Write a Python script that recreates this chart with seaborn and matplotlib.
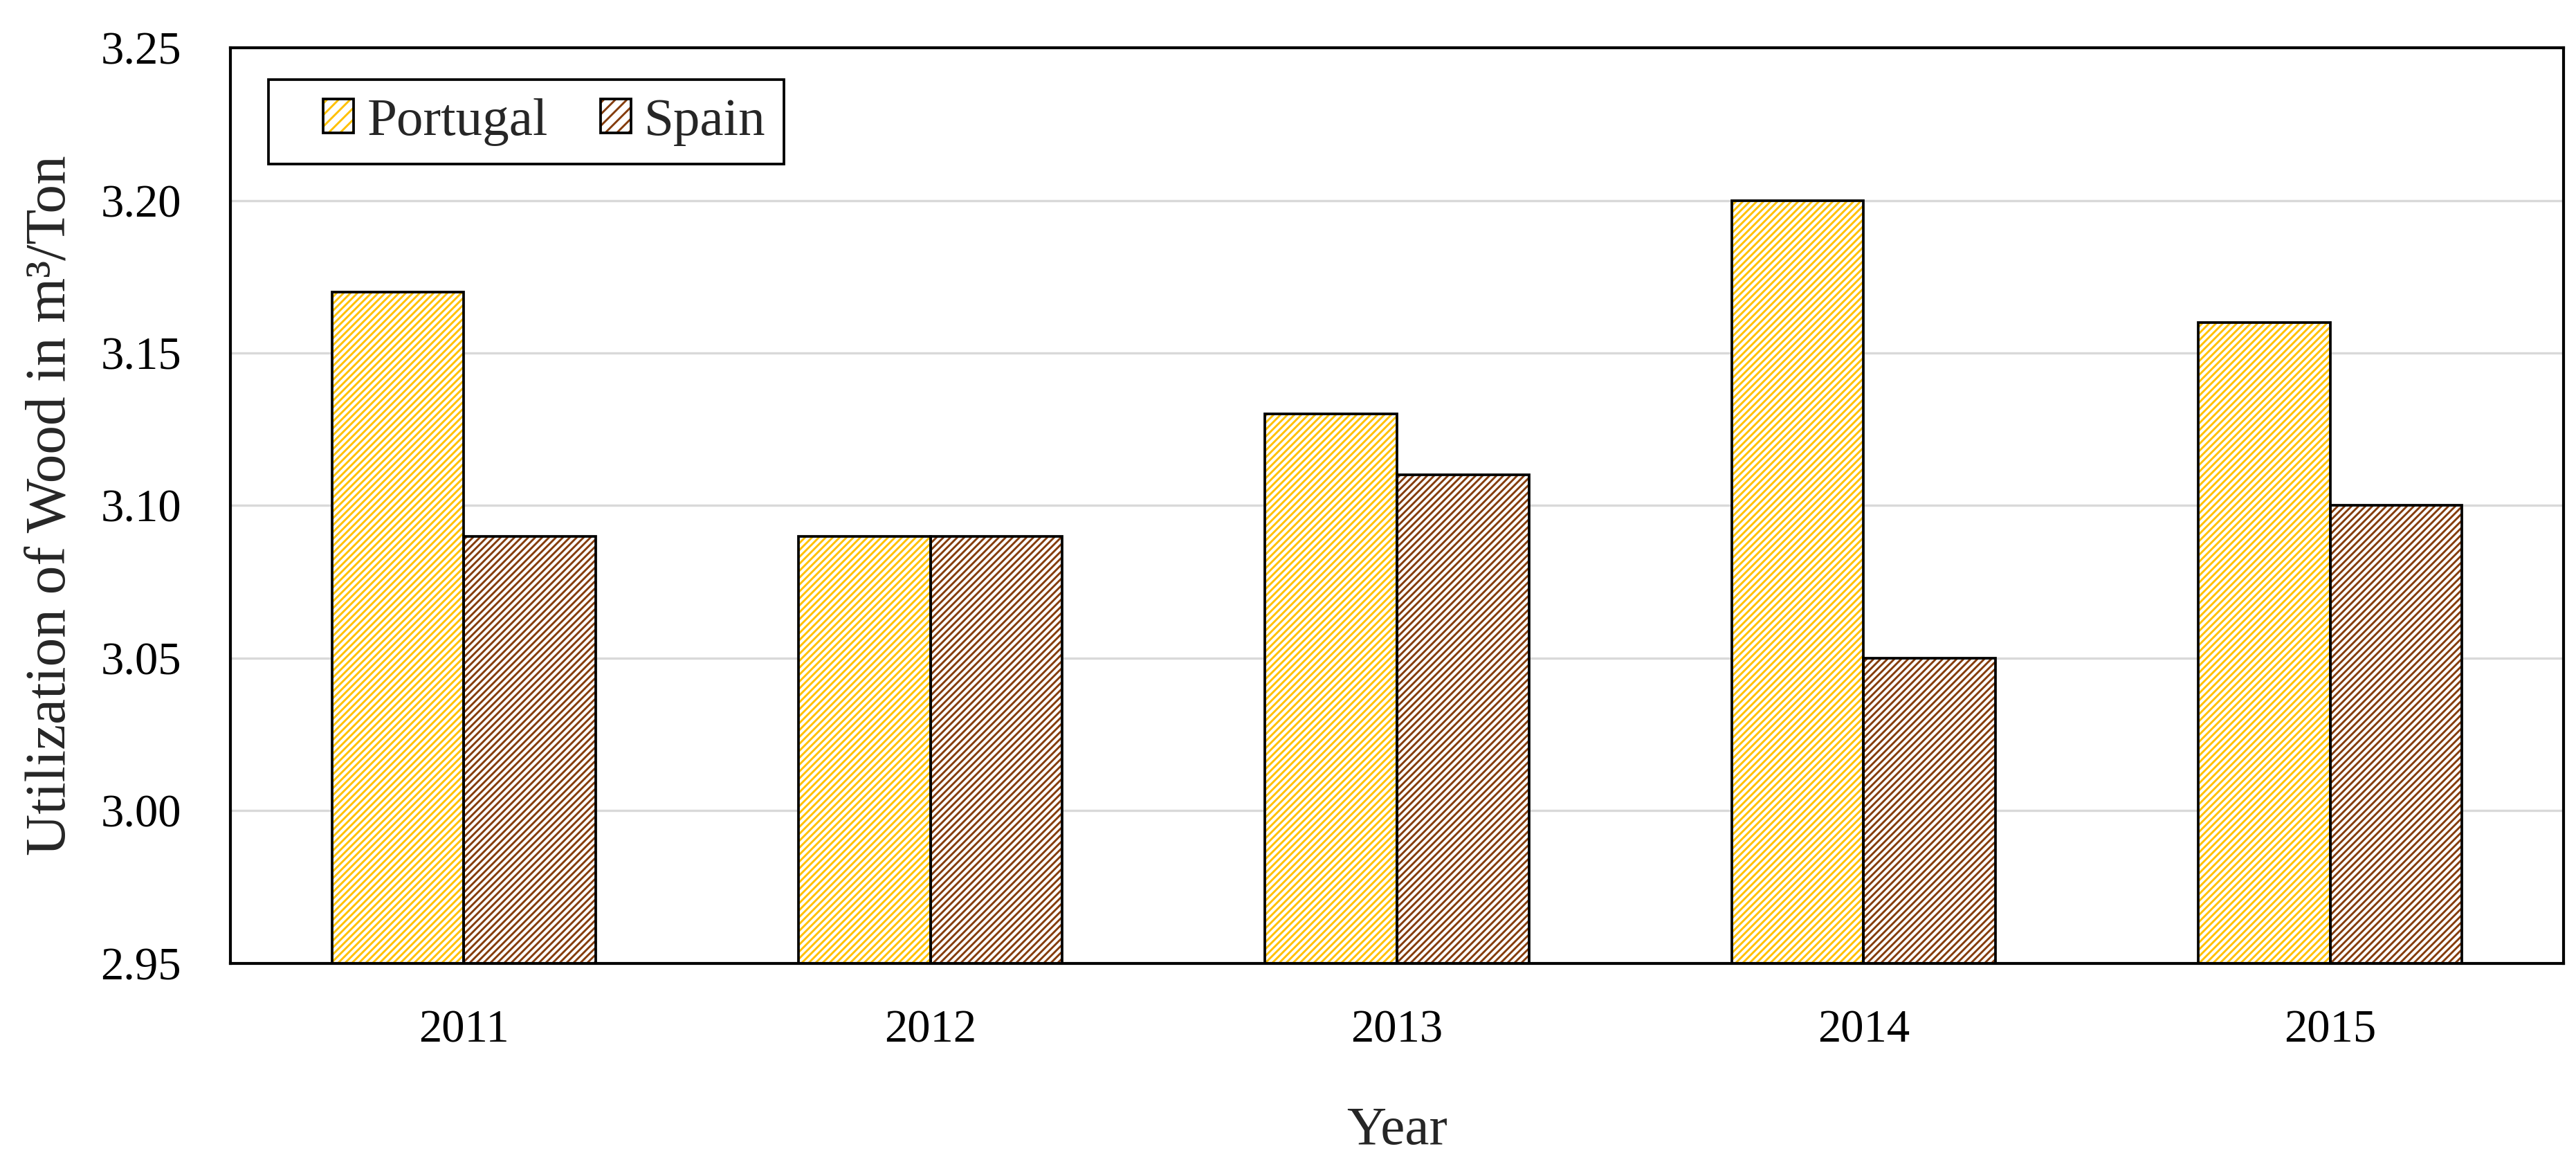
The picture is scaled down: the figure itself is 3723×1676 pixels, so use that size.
import matplotlib
matplotlib.use("Agg")
import matplotlib.pyplot as plt
import seaborn as sns
import pandas as pd
from matplotlib.patches import Patch, Rectangle
from matplotlib.legend_handler import HandlerBase

years = ["2011", "2012", "2013", "2014", "2015"]
portugal = [3.17, 3.09, 3.13, 3.20, 3.16]
spain = [3.09, 3.09, 3.11, 3.05, 3.10]
countries = ["Portugal", "Spain"]
hatch_colors = {"Portugal": "#FFC000", "Spain": "#843C0C"}
yticks = [2.95, 3.00, 3.05, 3.10, 3.15, 3.20, 3.25]

df = pd.DataFrame({
    "Year": years * 2,
    "Value": portugal + spain,
    "Country": ["Portugal"] * len(years) + ["Spain"] * len(years),
})

sns.set_style("white")
plt.rcParams["font.family"] = ["Liberation Serif", "DejaVu Serif"]
plt.rcParams["hatch.linewidth"] = 0.7

fig, ax = plt.subplots(figsize=(3723 / 300, 1676 / 300), dpi=300)
fig.subplots_adjust(left=0.0894, right=0.9952, top=0.9588, bottom=0.1695)

sns.barplot(data=df, x="Year", y="Value", hue="Country", order=years,
            hue_order=countries, palette=hatch_colors, width=0.565, gap=0,
            saturation=1, ax=ax, legend=False, zorder=2)

HATCH = "//////////"
for cont, c in zip(ax.containers, countries):
    for bar in cont:
        bar.set_facecolor("white")
        bar.set_edgecolor(hatch_colors[c])
        bar.set_hatch(HATCH)
        bar.set_linewidth(0)
        outline = Rectangle(bar.get_xy(), bar.get_width(), bar.get_height(),
                            fill=False, edgecolor="black", linewidth=0.9,
                            zorder=3)
        ax.add_patch(outline)

ax.set_ylim(yticks[0], yticks[-1])
ax.set_xlim(-0.5, len(years) - 0.5)
ax.set_yticks(yticks)
ax.set_yticklabels([f"{v:.2f}" for v in yticks])
ax.yaxis.grid(True, color="#D9D9D9", linewidth=0.8, zorder=0)
ax.set_axisbelow(True)
ax.tick_params(axis="both", length=0, labelsize=16, colors="black")
ax.tick_params(axis="y", pad=17)
ax.tick_params(axis="x", pad=16)
for s in ax.spines.values():
    s.set_visible(True)
    s.set_color("black")
    s.set_linewidth(1.0)

ax.set_xlabel("Year", fontsize=19, labelpad=19)
ax.set_ylabel("Utilization of Wood in m³/Ton", fontsize=20, labelpad=8)


class SquareHandler(HandlerBase):
    def create_artists(self, legend, orig_handle, xdescent, ydescent,
                       width, height, fontsize, trans):
        side = 0.57 * fontsize
        x0 = -xdescent + width - side
        y0 = -ydescent
        col = orig_handle.get_edgecolor()
        r1 = Rectangle((x0, y0), side, height, facecolor="white",
                       edgecolor=col, hatch="//////", linewidth=0,
                       transform=trans)
        r2 = Rectangle((x0, y0), side, height, fill=False,
                       edgecolor="black", linewidth=0.9, transform=trans)
        return [r1, r2]


handles = [Patch(edgecolor=hatch_colors[c]) for c in countries]
leg = ax.legend(handles, countries, handler_map={Patch: SquareHandler()},
                loc="upper left", bbox_to_anchor=(0.0163, 0.965), borderaxespad=0,
                fancybox=False, framealpha=1, edgecolor="black", fontsize=18.5,
                ncol=2, handlelength=1.26, handleheight=0.6, handletextpad=0.25,
                columnspacing=0.3, borderpad=0.34)
leg.get_frame().set_linewidth(0.9)

fig.savefig("out.png", dpi=300)
